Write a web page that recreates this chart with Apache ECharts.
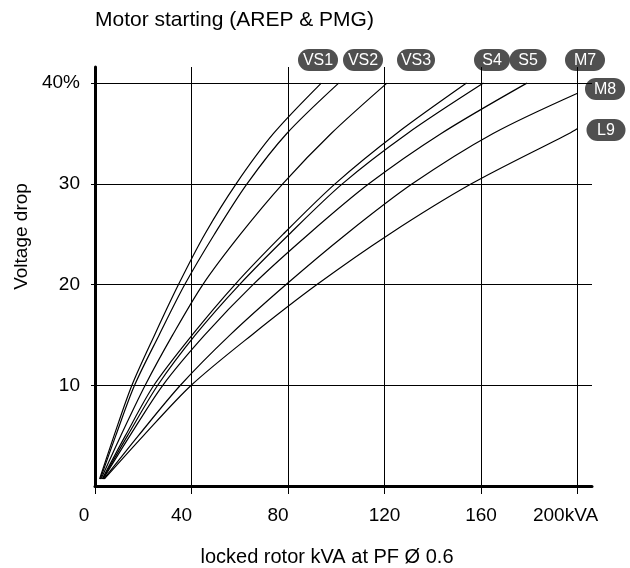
<!DOCTYPE html>
<html>
<head>
<meta charset="utf-8">
<script src="https://cdn.jsdelivr.net/npm/echarts@6/dist/echarts.min.js"></script>
<style>
  html, body { margin: 0; padding: 0; background: #fff; }
  #chart { width: 630px; height: 568px; }
</style>
</head>
<body>
<div id="chart"></div>
<script>
// locked rotor kVA vs voltage drop (%), one curve per machine
const vs1 = [[1.9, 0.7], [7.9, 5], [15.3, 10], [24.7, 15], [34.6, 20], [45.5, 25], [58.5, 30], [74, 35], [93.8, 40]];
const vs2 = [[2.2, 0.7], [8.6, 5], [16.4, 10], [26.6, 15], [37.2, 20], [49.5, 25], [63, 30], [79.5, 35], [101, 40]];
const vs3 = [[2.5, 0.7], [10.7, 5], [20.8, 10], [32.2, 15], [44.7, 20], [60.3, 25], [77.8, 30], [97.9, 35], [121, 40]];
const s4 = [[3, 0.7], [12.6, 5], [24.4, 10], [40.3, 15], [58, 20], [78, 25], [99.5, 30], [125, 35], [154, 40]];
const s5 = [[3.2, 0.7], [13.5, 5], [26, 10], [41.6, 15], [59.9, 20], [80.5, 25], [102.5, 30], [129.5, 35], [161, 40]];
const m7 = [[3.4, 0.7], [14.5, 5], [28.1, 10], [45.5, 15], [65.5, 20], [88.5, 25], [113.5, 30], [143.5, 35], [179, 40]];
const m8 = [[3.7, 0.7], [18, 5], [35.4, 10], [56, 15], [79.2, 20], [104.1, 25], [131.5, 30], [165, 35], [200, 39]];
const l9 = [[3.9, 0.7], [20.1, 5], [39.9, 10], [65, 15], [92, 20], [122, 25], [156, 30], [196.5, 35], [200, 35.5]];

const curves = [vs1, vs2, vs3, s4, s5, m7, m8, l9];
const curveNames = ['VS1', 'VS2', 'VS3', 'S4', 'S5', 'M7', 'M8', 'L9'];
const kvaTicks = [0, 40, 80, 120, 160, 200];
const dropTicks = [10, 20, 30, 40];

const FONT = '"Liberation Sans", Arial, sans-serif';

// the original labels sit a bit left of their ticks
const labelShift = { 0: 22, 40: 20, 80: 20, 120: 0, 160: 0, 200: 24 };
const xRich = {};
kvaTicks.forEach(v => {
  xRich['t' + v] = { fontSize: 19, fontFamily: FONT, color: '#000', padding: [0, labelShift[v], 0, 0] };
});

// name badges, pixel centre and width
const badgePos = [
  [318, 60, 40], [363, 60, 40], [416, 60, 38], [492, 60, 36],
  [528, 60, 37], [585, 60, 40], [605, 89, 40], [606, 130, 39]
];

const badges = curveNames.map((name, i) => {
  const [cx, cy, w] = badgePos[i];
  return {
    type: 'group', x: cx, y: cy, z: 100,
    children: [
      { type: 'rect', shape: { x: -w / 2, y: -11, width: w, height: 22, r: 11 }, style: { fill: '#505050' } },
      { type: 'text', style: { text: name, x: 0, y: 1, align: 'center', verticalAlign: 'middle', fill: '#fff', font: '16px ' + FONT } }
    ]
  };
});

const gridLines = dropTicks.map(v => ({ yAxis: v })).concat(kvaTicks.slice(1).map(v => ({ xAxis: v })));

const series = curves.map((d, i) => ({
  name: curveNames[i],
  type: 'line',
  data: d,
  smooth: 0.3,
  symbol: 'none',
  lineStyle: { color: '#000', width: 1.2 },
  z: 3
}));
series[0].markLine = {
  silent: true,
  symbol: ['none', 'none'],
  label: { show: false },
  lineStyle: { color: '#000', width: 1, type: 'solid' },
  data: gridLines,
  z: 2
};

const chart = echarts.init(document.getElementById('chart'));
chart.setOption({
  animation: false,
  title: {
    text: 'Motor starting (AREP & PMG)',
    left: 90, top: 5,
    textStyle: { fontSize: 21, fontWeight: 'normal', color: '#000', fontFamily: FONT }
  },
  grid: { left: 95, right: 38, top: 67, bottom: 82, outerBoundsMode: 'none' },
  xAxis: {
    type: 'value', min: 0, max: 206,
    name: 'locked rotor kVA at PF Ø 0.6',
    nameLocation: 'middle', nameGap: 61,
    nameTextStyle: { fontSize: 20, color: '#000', fontFamily: FONT, padding: [0, 33, 0, 0] },
    axisLine: { lineStyle: { color: '#000', width: 3 } },
    axisTick: { customValues: kvaTicks, length: 8, lineStyle: { color: '#000' } },
    axisLabel: {
      customValues: kvaTicks, margin: 20,
      formatter: v => '{t' + v + '|' + (v === 200 ? '200kVA' : v) + '}',
      rich: xRich
    },
    splitLine: { show: false }
  },
  yAxis: {
    type: 'value', min: 0, max: 41.6,
    name: 'Voltage drop',
    nameLocation: 'middle', nameGap: 61, nameRotate: 90,
    nameTextStyle: { fontSize: 19, color: '#000', fontFamily: FONT, padding: [0, 0, 0, 80] },
    axisLine: { lineStyle: { color: '#000', width: 3 } },
    axisTick: { customValues: dropTicks, length: 4, lineStyle: { color: '#000' } },
    axisLabel: {
      customValues: dropTicks, margin: 15,
      fontSize: 19, color: '#000', fontFamily: FONT,
      formatter: v => (v === 40 ? '40%' : String(v))
    },
    splitLine: { show: false }
  },
  graphic: badges,
  series: series
});
</script>
</body>
</html>
